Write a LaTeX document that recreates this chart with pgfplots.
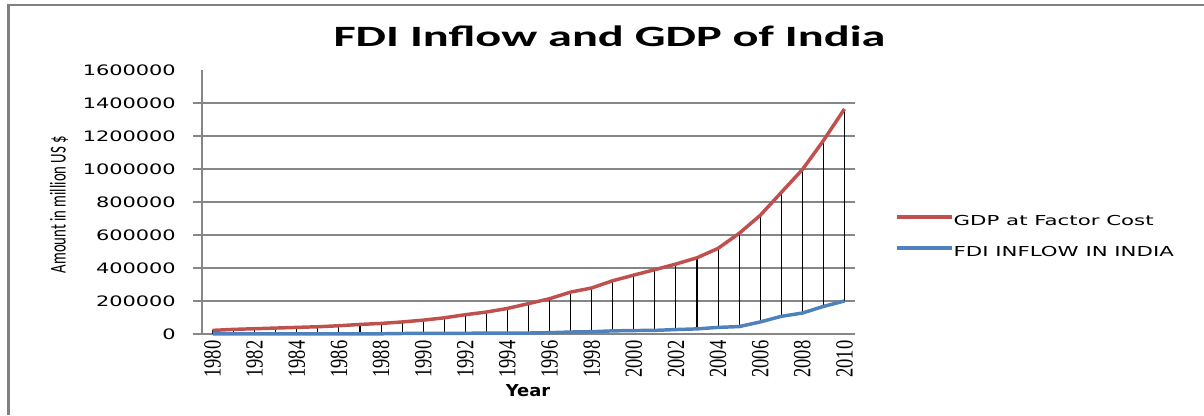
\documentclass[border=0pt]{standalone}
\usepackage{pgfplots}
\pgfplotsset{compat=1.18}
\usepackage{pgfplotstable}
\usepackage{fontspec}
\setmainfont{DejaVu Sans}
\newfontfamily\titlefont[FakeStretch=1.64]{Carlito}
\newfontfamily\yfont[FakeStretch=1.45]{DejaVu Sans}
\newfontfamily\legfont[FakeStretch=1.55]{DejaVu Sans}
\newfontfamily\xlabfont[FakeStretch=1.09]{DejaVu Sans}
\newfontfamily\ylabfont[FakeStretch=0.65]{Carlito}
\newfontfamily\xfont[FakeStretch=0.75]{Liberation Serif}

\definecolor{gdpred}{HTML}{C0504D}
\definecolor{fdiblue}{HTML}{4F81BD}
\definecolor{gridgray}{HTML}{868686}
\definecolor{framegray}{HTML}{808080}

% GDP at factor cost and FDI inflow, amount in million US $
\pgfplotstableread{
year gdp fdi
1980 22000 500
1981 28000 500
1982 32000 500
1983 36000 500
1984 40000 600
1985 44000 600
1986 50000 700
1987 58000 900
1988 64000 1200
1989 73000 3000
1990 84000 4000
1991 98000 4000
1992 117000 4500
1993 133000 5000
1994 155000 5500
1995 184000 6000
1996 214000 8000
1997 254000 12000
1998 279000 14000
1999 323000 19000
2000 357000 21000
2001 390000 22000
2002 424000 27000
2003 462000 31000
2004 519000 40000
2005 610000 45000
2006 719000 73000
2007 858000 107000
2008 996000 127000
2009 1172000 167000
2010 1364000 200000
}\indiadata

\begin{document}
\begin{tikzpicture}
\path[use as bounding box] (0pt,0pt) rectangle (903pt,311.25pt);
% chart frame
\draw[framegray, line width=2.25pt] (6pt,0pt) -- (6pt,307.5pt);
\draw[framegray, line width=1pt] (5pt,307.5pt) -- (903pt,307.5pt);

\begin{axis}[
  at={(151.5pt,60.75pt)}, anchor=south west,
  scale only axis, width=489.75pt, height=198pt,
  xmin=1979.5, xmax=2010.5, ymin=0, ymax=1600000,
  axis x line*=bottom, axis y line*=left,
  axis line style={gridgray, line width=1pt},
  clip=false,
  xtick={1980,1982,1984,1986,1988,1990,1992,1994,1996,1998,2000,2002,2004,2006,2008,2010},
  xticklabels={1980,1982,1984,1986,1988,1990,1992,1994,1996,1998,2000,2002,2004,2006,2008,2010},
  xtick style={draw=none},
  xticklabel style={rotate=90, anchor=east, inner sep=0pt,
    font=\xfont\fontsize{18.5}{20}\selectfont},
  xticklabel shift=-2pt,
  ytick={0,200000,400000,600000,800000,1000000,1200000,1400000},
  extra y ticks={1600000},
  extra y tick style={grid=none, tick style={draw=none}},
  ymajorgrids,
  grid style={gridgray, line width=1pt},
  tick align=outside, major tick length=6.75pt,
  ytick style={gridgray, line width=1pt},
  scaled y ticks=false,
  yticklabel style={anchor=east, inner sep=0pt,
    font=\yfont\fontsize{10.8}{12}\selectfont,
    /pgf/number format/.cd, fixed, 1000 sep={}, assume math mode=true},
  yticklabel shift=12.75pt,
  title={FDI Inflow and GDP of India},
  title style={at={(axis description cs:0.624,1.057)}, anchor=base, inner sep=0pt,
    font=\titlefont\bfseries\fontsize{22.1}{26}\selectfont},
  xlabel={Year},
  xlabel style={at={(axis description cs:0.4992,-0.2386)}, anchor=base, inner sep=0pt,
    font=\xlabfont\bfseries\fontsize{12.3}{14}\selectfont},
  ylabel={Amount in million US \$},
  ylabel style={at={(axis description cs:-0.219,0.49)}, anchor=center, rotate=0, inner sep=0pt,
    font=\ylabfont\fontsize{17}{19}\selectfont},
  legend style={at={(axis description cs:1,0.3718)}, anchor=west, xshift=30pt,
    draw=none, fill=none, inner sep=0pt, row sep=15.5pt,
    nodes={inner sep=0pt, text height=7.5pt, text depth=0pt,
      font=\legfont\fontsize{10.3}{12}\selectfont},
    /tikz/every even column/.append style={column sep=3.75pt}},
  legend cell align=left,
  legend image code/.code={\draw[#1, line width=2.6pt] (0pt,2.8pt) -- (41.25pt,2.8pt);},
]
% high-low lines between the two series
\addplot[draw=none, forget plot,
  error bars/.cd, y dir=minus, y explicit, error mark=none,
  error bar style={black, line width=0.8pt}]
  table[x=year, y=gdp, y error minus expr=\thisrow{gdp}-\thisrow{fdi}] {\indiadata};
\addplot[gdpred, line width=2.6pt, line join=round] table[x=year, y=gdp] {\indiadata};
\addlegendentry{GDP at Factor Cost}
\addplot[fdiblue, line width=2.6pt, line join=round] table[x=year, y=fdi] {\indiadata};
\addlegendentry{FDI INFLOW IN INDIA}
\end{axis}
\end{tikzpicture}
\end{document}
